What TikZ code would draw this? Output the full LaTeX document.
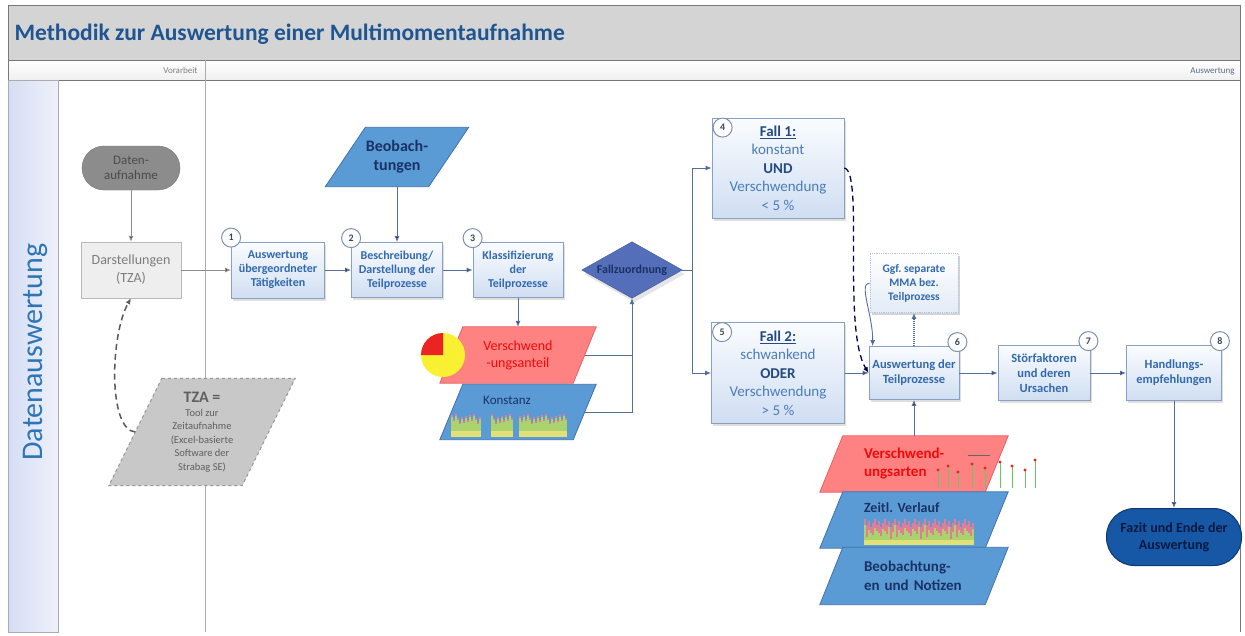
\documentclass[tikz,border=0pt]{standalone}
\usepackage{fontspec}
\setmainfont{Carlito}
\usetikzlibrary{arrows.meta,shadows}

\definecolor{titleblue}{RGB}{31,85,145}
\definecolor{laneblue}{RGB}{46,117,182}
\definecolor{titlebg}{RGB}{212,212,212}
\definecolor{frameline}{RGB}{120,120,120}
\definecolor{laneline}{RGB}{170,170,175}
\definecolor{laneleft}{RGB}{214,222,245}
\definecolor{laneright}{RGB}{238,241,250}
\definecolor{headblue}{RGB}{90,110,140}
\definecolor{boxline}{RGB}{135,160,195}
\definecolor{boxtop}{RGB}{250,252,255}
\definecolor{boxbot}{RGB}{208,222,242}
\definecolor{boxtext}{RGB}{50,105,175}
\definecolor{falltext}{RGB}{75,125,185}
\definecolor{falldark}{RGB}{35,75,130}
\definecolor{numline}{RGB}{125,145,175}
\definecolor{numtext}{RGB}{60,70,90}
\definecolor{connline}{RGB}{85,110,155}
\definecolor{pgblue}{RGB}{91,155,213}
\definecolor{pgblueline}{RGB}{65,113,170}
\definecolor{pgred}{RGB}{255,130,130}
\definecolor{pgredline}{RGB}{235,95,95}
\definecolor{pgnavy}{RGB}{25,50,100}
\definecolor{redtext}{RGB}{240,10,10}
\definecolor{diafill}{RGB}{85,110,185}
\definecolor{pillgray}{RGB}{140,140,140}
\definecolor{pilltext}{RGB}{75,75,75}
\definecolor{darstfill}{RGB}{238,238,238}
\definecolor{darstline}{RGB}{185,185,185}
\definecolor{darsttext}{RGB}{125,125,125}
\definecolor{tzafill}{RGB}{200,200,200}
\definecolor{tzaline}{RGB}{150,150,150}
\definecolor{tzatext}{RGB}{95,95,95}
\definecolor{endfill}{RGB}{22,88,165}
\definecolor{endline}{RGB}{15,55,110}
\definecolor{endtext}{RGB}{10,25,65}
\definecolor{pieyellow}{RGB}{250,240,50}
\definecolor{piered}{RGB}{235,35,35}
\definecolor{barg}{RGB}{170,210,110}
\definecolor{bary}{RGB}{225,225,120}
\definecolor{barpink}{RGB}{225,125,150}

\pgfdeclarelayer{back}
\pgfsetlayers{back,main}

% parallelogram behind a node: style, node, slant
\newcommand{\pgram}[3]{%
  \begin{pgfonlayer}{back}
    \path[#1] ([xshift=#3]#2.north west) -- ([xshift=#3]#2.north east)
      -- ([xshift=-#3]#2.south east) -- ([xshift=-#3]#2.south west) -- cycle;
  \end{pgfonlayer}}

\begin{document}
\frenchspacing
\begin{tikzpicture}[x=1pt,y=-1pt]
    \tikzset{
    lanetext/.style={anchor=east,font=\fontsize{9}{9}\selectfont},
    stepbox/.style={draw=boxline,line width=0.8pt,top color=boxtop,bottom color=boxbot,
      text=boxtext,align=center,inner sep=1pt,font=\fontsize{12}{14}\selectfont\bfseries,
      drop shadow={opacity=0.25,shadow xshift=1.5pt,shadow yshift=-2.5pt}},
    bigstep/.style={stepbox,font=\fontsize{12.5}{15}\selectfont\bfseries},
    fallbox/.style={stepbox,text=falltext,font=\fontsize{15}{18.5}\selectfont},
    ggfbox/.style={stepbox,draw=boxline!60,densely dotted,top color=white,bottom color=boxbot!60,
      drop shadow={opacity=0.12,shadow xshift=1.5pt,shadow yshift=-2.5pt}},
    numc/.style={circle,draw=numline,fill=white,line width=1pt,minimum size=19pt,
      inner sep=0pt,text=numtext,font=\fontsize{10}{10}\selectfont\bfseries},
    databox/.style={inner sep=0pt,align=center},
    bluepg/.style={fill=pgblue,draw=pgblueline,line width=0.8pt},
    redpg/.style={fill=pgred,draw=pgredline,line width=0.8pt},
    conn/.style={draw=connline,line width=1pt,-{Latex[length=6pt,width=5pt]}},
    }
    \useasboundingbox (0,0) rectangle (1245,635);

    % lanes
    \begin{pgfonlayer}{back}
    \fill[white] (0,0) rectangle (1245,635);
    \draw[frameline,fill=titlebg,line width=1pt] (8,5) rectangle (1240,60);
    \draw[frameline,top color=white,bottom color=black!6,line width=0.8pt] (8,60) rectangle (1240,80);
    \draw[laneline,left color=laneleft,right color=laneright,line width=1pt] (8,80) rectangle (58,632);
    \draw[laneline,line width=1pt] (205,60) -- (205,632);
    \draw[frameline,line width=1pt] (1240,60) -- (1240,632);
    \end{pgfonlayer}
    \node[anchor=west,text=titleblue,font=\fontsize{23.5}{24}\selectfont\bfseries] (title) at (11,34)
        {Methodik zur Auswertung einer Multimomentaufnahme};
    \node[lanetext,text=black!50] (vor) at (201,70) {Vorarbeit};
    \node[lanetext,text=headblue] (ausw) at (1238,71) {Auswertung};
    \node[rotate=90,text=laneblue,font=\fontsize{30}{30}\selectfont] (lane) at (35,352) {Datenauswertung};

    % Vorarbeit
    \node[fill=pillgray,draw=pillgray!85!black,rounded corners=22pt,minimum width=98pt,minimum height=44pt,
        text=pilltext,align=center,font=\fontsize{13}{15}\selectfont] (daten) at (131,168) {Daten-\\aufnahme};
    \node[fill=darstfill,draw=darstline,minimum width=100pt,minimum height=56pt,text=darsttext,
        align=center,font=\fontsize{14}{18}\selectfont] (darst) at (131,270) {Darstellungen\\(TZA)};
    \node[databox,minimum width=133pt,minimum height=107pt,text=tzatext,font=\fontsize{10.5}{13.5}\selectfont] (tza) at (202,432)
        {{\fontsize{16}{18}\selectfont\bfseries TZA =}\\Tool zur\\Zeitaufnahme\\(Excel-basierte\\Software der\\Strabag SE)};
    \pgram{fill=tzafill,draw=tzaline,dashed,line width=1pt}{tza}{26.5pt}

    % Schritte 1 bis 3
    \node[databox,minimum width=103pt,minimum height=59pt,text=pgnavy,font=\fontsize{16}{19}\selectfont\bfseries] (beob) at (397,157) {Beobach-\\tungen};
    \pgram{bluepg}{beob}{20pt}
    \node[stepbox,minimum width=93pt,minimum height=56pt] (s1) at (278,270) {Auswertung\\übergeordneter\\Tätigkeiten};
    \node[stepbox,minimum width=91pt,minimum height=55pt] (s2) at (397,270) {Beschreibung/\\Darstellung der\\Teilprozesse};
    \node[stepbox,minimum width=90pt,minimum height=55pt] (s3) at (518,270) {Klassifizierung\\der\\Teilprozesse};
    \node[numc] (n1) at ([yshift=4pt]s1.north west) {1};
    \node[numc] (n2) at ([yshift=4pt]s2.north west) {2};
    \node[numc] (n3) at ([yshift=4pt]s3.north west) {3};

    \node[databox,minimum width=100pt,minimum height=56pt,text=pgnavy,font=\fontsize{12}{12}\selectfont\bfseries] (zuord) at (632,270) {Fallzuordnung};
    \begin{pgfonlayer}{back}
    \path[fill=diafill,draw=diafill!80!black,drop shadow={opacity=0.2,shadow yshift=-4pt}]
        (zuord.west) -- (zuord.north) -- (zuord.east) -- (zuord.south) -- cycle;
    \end{pgfonlayer}

    \node[databox,minimum width=133pt,minimum height=56pt,text=redtext,font=\fontsize{14}{17}\selectfont] (vanteil) at (518,355) {Verschwend\\-ungsanteil};
    \pgram{redpg}{vanteil}{11.5pt}
    \node[inner sep=0pt,minimum width=133pt,minimum height=55pt,text height=9pt,text depth=24pt,text=pgnavy,
        font=\fontsize{13}{13}\selectfont] (konst) at (518,412) {\hspace*{-22pt}Konstanz};
    \pgram{bluepg}{konst}{11.5pt}

    % Fall 1 / Fall 2
    \node[fallbox,minimum width=132pt,minimum height=100pt] (fall1) at (778,168)
        {\textcolor{falldark}{\bfseries\underline{Fall 1:}}\\konstant\\\textcolor{falldark}{\bfseries UND}\\Verschwendung\\< 5 \%};
    \node[fallbox,minimum width=133pt,minimum height=101pt] (fall2) at (778,373)
        {\textcolor{falldark}{\bfseries\underline{Fall 2:}}\\schwankend\\\textcolor{falldark}{\bfseries ODER}\\Verschwendung\\> 5 \%};
    \node[numc] (n4) at ([xshift=11pt,yshift=-10pt]fall1.north west) {4};
    \node[numc] (n5) at ([xshift=11pt,yshift=-10pt]fall2.north west) {5};

    % Schritte 6 bis 8
    \node[ggfbox,minimum width=88pt,minimum height=59pt,font=\fontsize{11.5}{14}\selectfont\bfseries] (ggf) at (914,283) {Ggf. separate\\MMA bez.\\Teilprozess};
    \node[bigstep,minimum width=90pt,minimum height=53pt] (s6) at (914,373) {Auswertung der\\Teilprozesse};
    \node[bigstep,minimum width=92pt,minimum height=55pt] (s7) at (1044,373) {Störfaktoren\\und deren\\Ursachen};
    \node[bigstep,minimum width=95pt,minimum height=55pt] (s8) at (1174,373) {Handlungs-\\empfehlungen};
    \node[numc] (n6) at ([xshift=-2pt,yshift=4pt]s6.north east) {6};
    \node[numc] (n7) at ([xshift=-2pt,yshift=4pt]s7.north east) {7};
    \node[numc] (n8) at ([xshift=-2pt,yshift=4pt]s8.north east) {8};

    \node[databox,minimum width=165pt,minimum height=56pt,text width=100pt,align=left,text=redtext,
        font=\fontsize{15}{18}\selectfont\bfseries] (varten) at (914,464) {Verschwend-\\ungsarten};
    \pgram{redpg}{varten}{11.5pt}
    \node[inner sep=0pt,minimum width=165pt,minimum height=56pt,text width=100pt,align=left,text height=10pt,text depth=26pt,
        text=pgnavy,font=\fontsize{14}{14}\selectfont\bfseries] (zeitl) at (914,520) {Zeitl. Verlauf};
    \pgram{bluepg}{zeitl}{11.5pt}
    \node[databox,minimum width=165pt,minimum height=57pt,text width=100pt,align=left,text=pgnavy,
        font=\fontsize{15}{19}\selectfont\bfseries] (notiz) at (914,576) {Beobachtung-\\en und Notizen};
    \pgram{bluepg}{notiz}{11.5pt}

    \node[fill=endfill,draw=endline,line width=1pt,rounded corners=28pt,minimum width=135pt,minimum height=57pt,
        text=endtext,align=center,font=\fontsize{14}{17}\selectfont\bfseries] (fazit) at (1174,537) {Fazit und Ende der\\Auswertung};

    % kleine Diagramme
    \coordinate (pie) at (443,355);
    \fill[pieyellow] (pie) circle[radius=22pt];
    \fill[piered] (pie) -- ++(0,-22) arc[start angle=90,end angle=180,radius=22pt] -- cycle;
    \foreach \bx in {451,453,...,479,491,493,...,511,519,521,...,565}{
        \pgfmathsetmacro{\bh}{15+mod(\bx*7,9)}
        \fill[barg] (\bx,437) rectangle ++(1.5,-\bh);
        \fill[bary] (\bx,437) rectangle ++(1.5,-6);
        \fill[barpink] (\bx,437-\bh) rectangle ++(1.5,2);
    }
    \foreach \bx in {864,866,...,972}{
        \pgfmathsetmacro{\bh}{18+mod(\bx*7,10)}
        \pgfmathsetmacro{\bp}{6+mod(\bx*3,9)}
        \fill[barg] (\bx,545) rectangle ++(1.6,-\bh);
        \fill[bary] (\bx,545) rectangle ++(1.6,-5);
        \fill[barpink] (\bx,545-\bh) rectangle ++(1.6,\bp);
    }
    \draw[black!60,line width=0.8pt] (968,455) -- (990,455);
    \foreach \bx/\bt in {938/470,948/466,958/472,972/464,985/468,1000/462,1012/466,1025/470,1035/460}{
        \draw[black!35!green!60,line width=0.8pt] (\bx,\bt) -- (\bx,488);
        \fill[piered] (\bx,\bt) circle[radius=1.6pt];
    }

    % Verbindungen
    \path[conn,draw=black!45]
    (daten) edge (darst)
    (darst) edge (s1)
    ;
    \draw[draw=black!65,line width=1.5pt,dash pattern=on 6pt off 4pt,-{Latex[length=6pt,width=5pt]}]
        (tza.west) .. controls (108,430) and (110,335) .. (darst.south);
    \path[conn]
    (s1) edge (s2)
    (s2) edge (s3)
    (beob) edge (s2)
    (s3) edge (vanteil)
    (fall2) edge (s6)
    (s6) edge (s7)
    (s7) edge (s8)
    (varten) edge (s6)
    (s8) edge (fazit)
    ;
    \draw[connline,line width=1pt] (vanteil.east) -- (vanteil.east -| zuord.south);
    \draw[conn] (konst.east) -| (zuord.south);
    \coordinate (split) at (692,270);
    \draw[conn] (zuord.east) -- (split) |- (fall1.west);
    \draw[conn] (split) |- (fall2.west);
    \draw[conn,draw=black!70!blue,line width=1.3pt,dash pattern=on 6pt off 4pt]
        (fall1.east) .. controls (864,172) and (842,330) .. (s6.west);
    \draw[conn,line width=0.9pt] (ggf.west) .. controls (858,283) and (873,315) .. ([xshift=4pt]s6.north west);
    \draw[conn,densely dotted,line width=1.2pt] (s6) -- (ggf);
\end{tikzpicture}
\end{document}
